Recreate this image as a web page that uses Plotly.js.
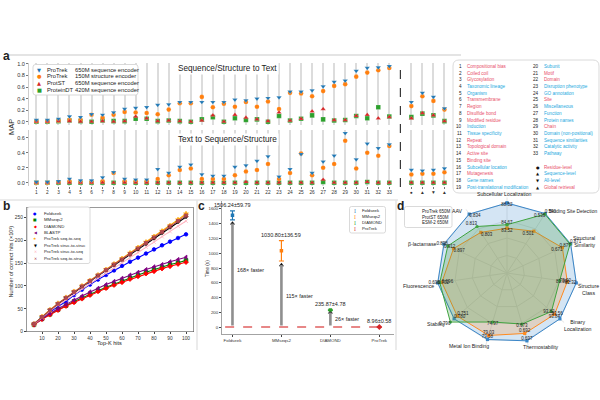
<!DOCTYPE html>
<html><head><meta charset="utf-8">
<script src="https://cdn.plot.ly/plotly-3.0.1.min.js"></script>
<style>html,body{margin:0;padding:0;background:#fff}#chart{width:600px;height:400px}</style>
</head><body><div id="chart"></div>
<script>
// ================= Panel a data =================
const aTickLabels = ['1','2','3','4','5','6','7','8','9','10','11','12','13','14','15','16','17','18','19','20','21','22','23','24','25','26','27','28','29','30','31','32','33','●','▲','▼','▲'];
const aSeriesNames = ['ProTrek','ProTrek','ProtST','ProteinDT'];
const aSeriesDesc = ['650M sequence encoder','150M structure encoder','650M sequence encoder','420M sequence encoder'];
// Sequence/Structure to Text (MAP)
const s2tProTrek650 = [0.03,0.03,0.05,0.09,0.08,0.13,0.12,0.16,0.22,0.24,0.25,0.29,0.30,0.34,0.34,0.34,0.34,0.34,0.38,0.37,0.40,0.41,0.42,0.52,0.52,0.54,0.61,0.69,0.71,0.88,0.93,0.94,0.96,0.34,0.50,0.43,0.23];
const s2tProTrek150 = [0.01,0.01,0.02,0.03,0.03,0.12,0.07,0.12,0.17,0.16,0.15,0.13,0.21,0.32,0.32,0.43,0.25,0.31,0.26,0.34,0.26,0.35,0.22,0.50,0.49,0.44,0.53,0.62,0.65,0.78,0.85,0.89,0.93,0.27,0.44,0.36,0.21];
const s2tProtST = [0.0,0.0,0.01,0.01,0.0,0.0,0.01,0.0,0.01,0.09,0.06,0.01,0.02,0.01,0.0,0.02,0.11,0.0,0.12,0.07,0.04,0.01,0.16,0.02,0.05,0.18,0.22,0.03,0.03,0.10,0.12,0.06,0.08,0.06,0.15,0.11,0.01];
const s2tProteinDT = [0.0,0.0,0.01,0.02,0.01,0.0,0.02,0.01,0.01,0.05,0.05,0.01,0.02,0.01,0.0,0.04,0.08,0.0,0.06,0.03,0.04,0.0,0.10,0.02,0.05,0.11,0.04,0.02,0.03,0.10,0.06,0.25,0.09,0.08,0.14,0.11,0.01];
// Text to Sequence/Structure (MAP)
const t2sProTrek650 = [0.01,0.01,0.02,0.05,0.03,0.03,0.07,0.14,0.05,0.04,0.04,0.18,0.13,0.21,0.24,0.11,0.09,0.09,0.21,0.23,0.29,0.35,0.08,0.18,0.38,0.13,0.28,0.36,0.66,0.31,0.52,0.46,0.51,0.17,0.16,0.17,0.19];
const t2sProTrek150 = [0.0,0.0,0.01,0.02,0.01,0.01,0.02,0.13,0.02,0.02,0.02,0.05,0.10,0.17,0.19,0.05,0.05,0.05,0.10,0.15,0.17,0.25,0.05,0.13,0.39,0.10,0.20,0.25,0.56,0.19,0.40,0.36,0.49,0.11,0.12,0.12,0.14];
const t2sProtST = [0,0,0,0,0,0,0,0,0,0,0,0,0,0,0,0,0,0,0,0.01,0,0,0,0,0,0,0.04,0,0,0,0.01,0,0,0,0,0,0];
const t2sProteinDT = [0,0,0,0,0,0,0,0,0,0,0,0,0,0,0,0,0,0,0,0,0,0,0,0,0,0,0.01,0,0,0,0.01,0,0,0,0,0,0];
// right-hand key
const aCatNames = ['Compositional bias','Coiled coil','Glycosylation','Taxonomic lineage','Organism','Transmembrane','Region','Disulfide bond','Modified residue','Induction','Tissue specificity','Repeat','Topological domain','Active site','Binding site','Subcellular location','Mutagenesis','Gene names','Post-translational modification','Subunit','Motif','Domain','Disruption phenotype','GO annotation','Site','Miscellaneous','Function','Protein names','Chain','Domain (non-positional)','Sequence similarities','Catalytic activity','Pathway'];
const aCatLevel = ['r','r','r','s','s','r','r','r','r','s','s','r','r','r','r','s','r','s','s','s','r','r','s','s','r','s','s','s','r','s','s','s','s'];
const aLevelSymbols = ['●','▲','▼','▲'];
const aLevelNames = ['Residue-level','Sequence-level','All-level','Global retrieval'];
const aLevelType = ['r','s','s','r'];

// ================= Panel b data =================
const bTopK = [5,10,15,20,25,30,35,40,45,50,55,60,65,70,75,80,85,90,95,100];
const bNames = ['Foldseek','MMseqs2','DIAMOND','BLASTP','ProTrek seq-to-seq','ProTrek struc-to-struc','ProTrek struc-to-seq','ProTrek seq-to-struc'];
const bFoldseek = [17,31,43,55,66,80,92,103,114,124,134,144,153,162,171,180,189,197,205,213];
const bMMseqs2 = [15,28,38,48,57,66,74,82,90,97,104,111,118,124,130,136,141,147,151,156];
const bDIAMOND = [15,27,37,47,56,64,72,80,88,95,102,108,115,121,127,132,138,143,148,152];
const bBLASTP = [16,29,40,50,60,69,78,87,95,103,110,117,124,130,136,142,147,153,158,163];
const bSeq2Seq = [17,33,48,62,75,88,100,112,124,136,148,160,172,184,196,208,220,232,245,258];
const bStruc2Struc = [17,32,47,60,73,86,98,110,122,133,145,157,168,180,192,204,216,228,240,251];
const bStruc2Seq = [16,31,45,58,70,82,94,106,117,128,140,151,162,173,185,196,208,219,231,242];
const bSeq2Struc = [17,32,47,61,74,87,99,111,123,135,147,158,170,182,194,206,218,230,242,254];

// ================= Panel c data =================
const cMethods = ['Foldseek','MMseqs2','DIAMOND','ProTrek'];
const cTime = [1506.24,1030.80,235.87,8.96];
const cErr = [59.79,136.59,4.78,0.58];
const cArrowTop = [1398,840,205];
const cSpeedLabelY = [780,424,112];

// ================= Panel d data =================
const dAxes = ['Subcellular Localization','Binding Site Detection','Structural<br>Similarity','Structure<br>Class','Binary<br>Localization','Thermostability','Metal Ion Binding','Stability','Fluorescence','β-lactamase','AAV'];
const dModels = ['ProTrek 650M','ProtST 650M','ESM-2 650M'];
const dProTrekR = [1.00,1.01,1.00,1.00,1.00,1.01,0.99,1.00,1.00,0.99,1.00];
const dProtSTR = [0.64,0.71,0.87,0.87,0.90,0.90,0.93,0.94,0.94,0.84,0.69];
const dESMR = [0.69,1.00,0.99,0.76,0.84,0.76,0.73,1.07,0.97,0.93,0.79];
const dProTrekVal = ['88.52','0.536','0.877','82.32','93.84','0.697','79.58','0.780','0.702','0.912','0.834'];
const dProtSTVal = ['83.52','0.501','0.671','81.09','93.82','0.692','79.03','0.751','0.696','0.897','0.803'];
const dESMVal = ['84.67','0.540','0.871','79.90','93.56','0.673','74.97','0.790','0.698','0.898','0.813'];

// ================= helpers =================
const FONT = 'Liberation Sans, Arial, sans-serif';
const W = 600, H = 400;
const X = p => p / W, Y = p => 1 - p / H;
const RED = '#e8506a', SKY = '#25a9e0';
const annotations = [];
const shapes = [];
function txt(x, y, text, size, opts) {
  annotations.push(Object.assign({xref:'paper', yref:'paper', x:X(x), y:Y(y), text:text, showarrow:false,
    font:{size:size, family:FONT, color:'#222'}, xanchor:'left', yanchor:'middle'}, opts || {}));
}
function rrect(x0, y0, x1, y1, r, lineColor, fill, layer) {
  const f = v => v.toFixed(5);
  const p = `M ${f(X(x0+r))},${f(Y(y0))} L ${f(X(x1-r))},${f(Y(y0))} Q ${f(X(x1))},${f(Y(y0))} ${f(X(x1))},${f(Y(y0+r))} ` +
            `L ${f(X(x1))},${f(Y(y1-r))} Q ${f(X(x1))},${f(Y(y1))} ${f(X(x1-r))},${f(Y(y1))} ` +
            `L ${f(X(x0+r))},${f(Y(y1))} Q ${f(X(x0))},${f(Y(y1))} ${f(X(x0))},${f(Y(y1-r))} ` +
            `L ${f(X(x0))},${f(Y(y0+r))} Q ${f(X(x0))},${f(Y(y0))} ${f(X(x0+r))},${f(Y(y0))} Z`;
  shapes.push({type:'path', xref:'paper', yref:'paper', path:p, line:{color:lineColor, width:0.8}, fillcolor:fill, layer:layer||'above'});
}
function pline(x0, y0, x1, y1, color, width, dash) {
  shapes.push({type:'line', xref:'paper', yref:'paper', x0:X(x0), y0:Y(y0), x1:X(x1), y1:Y(y1), line:{color:color, width:width, dash:dash||'solid'}, layer:'below'});
}

const traces = [];
// ================= Panel a traces =================
const aPos = aTickLabels.map((_, i) => i < 33 ? i + 1 : i + 2);
const aStyles = [
  {color:'#1f77b4', symbol:'triangle-down'},
  {color:'#ff7f0e', symbol:'circle'},
  {color:'#d62728', symbol:'triangle-up'},
  {color:'#2ca02c', symbol:'square'}
];
const aTop = [s2tProTrek650, s2tProTrek150, s2tProtST, s2tProteinDT];
const aBot = [t2sProTrek650, t2sProTrek150, t2sProtST, t2sProteinDT];
[3, 1, 2, 0].forEach(k => {
  traces.push({type:'scatter', mode:'markers', x:aPos, y:aTop[k], xaxis:'x', yaxis:'y', showlegend:false, hoverinfo:'skip',
    marker:{color:aStyles[k].color, symbol:aStyles[k].symbol, size:4.6, line:{width:0.3, color:'rgba(255,255,255,0.6)'}}});
  traces.push({type:'scatter', mode:'markers', x:aPos, y:aBot[k], xaxis:'x2', yaxis:'y2', showlegend:false, hoverinfo:'skip',
    marker:{color:aStyles[k].color, symbol:aStyles[k].symbol, size:4.6, line:{width:0.3, color:'rgba(255,255,255,0.6)'}}});
});

// ================= Panel b traces =================
const bSeries = [bFoldseek, bMMseqs2, bDIAMOND, bBLASTP, bSeq2Seq, bStruc2Struc, bStruc2Seq, bSeq2Struc];
const bColors = ['#0000ff','#008000','#ff0000','#800080','#ffa500','#000000','#ffb6c1','#b0474f'];
const bSymbols = ['circle','square','diamond','triangle-left','star','triangle-down','x-thin-open','x'];
bSeries.forEach((s, k) => {
  traces.push({type:'scatter', mode:'lines+markers', x:bTopK, y:s, xaxis:'x3', yaxis:'y3', showlegend:false, hoverinfo:'skip',
    line:{color:bColors[k], width:1.1},
    marker:{color:bColors[k], symbol:bSymbols[k], size:3.6, line:{color:bColors[k], width:0.8}}});
});

// ================= Panel c traces =================
const cColors = ['#1f77b4','#ff7f0e','#2ca02c','#d62728'];
const cIdx = cMethods.map((_, i) => i);
cArrowTop.forEach((t, i) => {
  annotations.push({xref:'x4', yref:'y4', axref:'x4', ayref:'y4', x:i, y:t, ax:i, ay:cTime[3], text:'', showarrow:true,
    arrowhead:0, arrowwidth:2.6, arrowcolor:'#8f8f8f', standoff:0, startstandoff:0});
  annotations.push({xref:'x4', yref:'y4', x:i + 0.06, y:cSpeedLabelY[i], text:Math.round(cTime[i] / cTime[3]) + '× faster',
    showarrow:false, xanchor:'left', yanchor:'middle', font:{size:5.4, family:FONT, color:'#222'}});
});
traces.push({type:'scatter', mode:'markers', x:cIdx.slice(0, 3), y:cArrowTop, xaxis:'x4', yaxis:'y4', showlegend:false, hoverinfo:'skip',
  marker:{symbol:'triangle-up', color:'#111', size:4.5}});
cMethods.forEach((m, i) => {
  traces.push({type:'scatter', mode:'markers', x:[i], y:[cTime[i]], xaxis:'x4', yaxis:'y4', showlegend:false, hoverinfo:'skip',
    error_y:{type:'data', array:[cErr[i]], color:cColors[i], thickness:1.2, width:2.5},
    marker:{symbol:i === 3 ? 'diamond' : 'square', color:cColors[i], size:i === 3 ? 4.5 : 3.5}});
  annotations.push({xref:'x4', yref:'y4', x:i, y:cTime[i] + cErr[i], text:cTime[i].toFixed(2) + '±' + cErr[i].toFixed(2),
    showarrow:false, xanchor:'center', yanchor:'bottom', yshift:1, font:{size:5.5, family:FONT, color:'#222'}});
});
shapes.push({type:'line', xref:'x4', yref:'y4', x0:-0.15, x1:3, y0:cTime[3], y1:cTime[3], line:{color:'#e06060', width:1.3, dash:'dash'}, layer:'below'});

// ================= Panel d traces =================
const dClose = a => a.concat([a[0]]);
const dR = [dProTrekR, dProtSTR, dESMR];
const dVal = [dProTrekVal, dProtSTVal, dESMVal];
const dLine = ['#3a86c8','#ff8a1f','#3fa33f'];
const dFill = ['rgba(100,160,215,0.28)','rgba(255,140,30,0.22)','rgba(70,160,70,0.26)'];
const dSym = ['square','square','circle'];
dR.forEach((r, k) => {
  traces.push({type:'scatterpolar', r:dClose(r), theta:dClose(dAxes), mode:'lines+markers', fill:'toself', fillcolor:dFill[k],
    line:{color:dLine[k], width:1}, marker:{color:dLine[k], size:3.2, symbol:dSym[k]}, showlegend:false, hoverinfo:'skip', subplot:'polar'});
});
function inwardPos(i, outward) {
  const th = i * 2 * Math.PI / dAxes.length;
  let dx = -Math.sin(th), dy = -Math.cos(th);
  if (outward) { dx = -dx; dy = -dy; }
  const v = dy > 0.38 ? 'top' : (dy < -0.38 ? 'bottom' : 'middle');
  const h = dx > 0.38 ? 'right' : (dx < -0.38 ? 'left' : 'center');
  return v + ' ' + h;
}
dVal.forEach((vals, k) => {
  traces.push({type:'scatterpolar', r:dR[k], theta:dAxes, mode:'text', text:vals, subplot:'polar',
    textposition:vals.map((_, i) => inwardPos(i, k === 2)), textfont:{size:4.5, family:FONT, color:'#222'}, showlegend:false, hoverinfo:'skip'});
});
const dLabelPlace = [[504,199,'center','bottom','center'],[599,211,'right','middle','left'],[598,241,'right','middle','right'],
  [588,289.5,'center','middle','center'],[578,325,'center','middle','center'],[541,347,'center','middle','center'],
  [469,346,'center','middle','center'],[448,324,'right','middle','right'],[436,286,'right','middle','right'],
  [438,244,'right','middle','right'],[465,211,'right','middle','right']];
dAxes.forEach((name, i) => {
  const p = dLabelPlace[i];
  txt(p[0], p[1], name, i === 1 ? 4.9 : 5.2, {xanchor:p[2], yanchor:p[3], align:p[4]});
});

// ================= annotations / decorations =================
txt(1, 56, '<b>a</b>', 12);
txt(1, 206, '<b>b</b>', 12);
txt(196, 206, '<b>c</b>', 12);
txt(395, 206, '<b>d</b>', 12);
pline(8, 55, 461, 55, '#e4e4e4', 2);
pline(0, 200, 398, 200, '#e4e4e4', 1.5);
pline(197, 200, 197, 350, '#e4e4e4', 1.5);
pline(396, 200, 396, 350, '#e4e4e4', 1.5);
shapes.push({type:'line', xref:'x', yref:'paper', x0:34, x1:34, y0:Y(187), y1:Y(62), line:{color:'#111', width:1, dash:'dash'}});
txt(11, 127, 'MAP', 7.5, {textangle:-90, xanchor:'center'});
txt(227.5, 68.5, 'Sequence/Structure to Text', 8.2, {xanchor:'center', bgcolor:'#ffffff', borderpad:1});
txt(227.5, 139.5, 'Text to Sequence/Structure', 8.2, {xanchor:'center', bgcolor:'#ffffff', borderpad:1});
rrect(33, 64.5, 138, 95, 2.5, '#cfcfcf', '#ffffff');
const aLegSym = ['▼','●','▲','■'];
aSeriesNames.forEach((n, k) => {
  const y = 69.7 + k * 6.6;
  txt(39.5, y, aLegSym[k], 5.2, {xanchor:'center', font:{size:5.2, family:'DejaVu Sans', color:aStyles[k].color}});
  txt(44.5, y, n, 5.8);
  txt(73, y, aSeriesDesc[k], 5.8);
});
rrect(453, 60, 599, 193, 6, '#d0d0d0', '#ffffff');
aCatNames.forEach((n, i) => {
  const col = i < 19 ? 0 : 1;
  const row = col === 0 ? i : i - 19;
  const y = 66.3 + row * 6.72;
  const nx = col === 0 ? 463.5 : 540.8;
  txt(nx, y, String(i + 1), 4.6, {xanchor:'right'});
  txt(nx + 1.3, y, n, 4.6, {font:{size:4.6, family:FONT, color:aCatLevel[i] === 'r' ? RED : SKY}});
});
aLevelNames.forEach((n, j) => {
  const y = 66.3 + (15 + j) * 6.72;
  txt(538, y, aLevelSymbols[j], 4, {xanchor:'center', font:{size:4, family:'DejaVu Sans', color:'#111'}});
  txt(542.1, y, n, 4.6, {font:{size:4.6, family:FONT, color:aLevelType[j] === 'r' ? RED : SKY}});
});
rrect(27.5, 207, 90, 263.5, 2, '#d0d0d0', '#ffffff');
const bLegSym = ['●','■','◆','◀','★','▼','✕','✕'];
bNames.forEach((n, k) => {
  const y = 213.3 + k * 6.4;
  pline(30.5, y, 40, y, bColors[k], 1);
  txt(35.2, y, bLegSym[k], 3.8, {xanchor:'center', font:{size:3.8, family:'DejaVu Sans', color:bColors[k]}});
  txt(42, y, n, 4.3);
});
txt(110, 343, 'Top-K hits', 5.6, {xanchor:'center'});
txt(10.5, 262, 'Number of correct hits (×10³)', 5.6, {textangle:-90, xanchor:'center'});
rrect(349.5, 206.5, 385.5, 233, 2, '#d0d0d0', '#ffffff');
cMethods.forEach((m, k) => {
  const y = 210.8 + k * 6;
  txt(355, y, 'Ⅰ', 5, {xanchor:'center', font:{size:5, family:'DejaVu Serif', color:cColors[k]}});
  txt(359.5, y, m, 4.2);
});
txt(207, 268, 'Time (s)', 4.6, {textangle:-90, xanchor:'center'});
rrect(404.5, 206.5, 452, 227.5, 2, '#d0d0d0', '#ffffff');
dModels.forEach((m, k) => {
  const y = 211.5 + k * 5.7;
  pline(407.5, y, 418, y, dLine[k], 1.1);
  txt(420, y, m, 4.5);
});

const tickFont = s => ({size:s, family:FONT, color:'#333'});
const layout = {
  width:W, height:H, margin:{l:0, r:0, t:0, b:0}, paper_bgcolor:'#ffffff', plot_bgcolor:'rgba(0,0,0,0)',
  showlegend:false, font:{family:FONT, color:'#222'},
  xaxis:{domain:[0.0478, 0.7527], range:[0.3, 38.65], anchor:'y', tickvals:aPos, showticklabels:false, ticks:'',
    showgrid:true, gridcolor:'#dcdcdc', gridwidth:2, zeroline:false, showline:false},
  yaxis:{domain:[0.6885, 0.843], range:[-0.05, 1.02], anchor:'x', tickvals:[0, 0.2, 0.4, 0.6, 0.8, 1.0], tickformat:'.1f',
    tickfont:tickFont(5.6), ticks:'outside', ticklen:2, tickcolor:'#777', showline:true, linecolor:'#aaa', linewidth:0.6,
    showgrid:false, zeroline:false},
  xaxis2:{domain:[0.0478, 0.7527], range:[0.3, 38.65], anchor:'y2', tickvals:aPos, ticktext:aTickLabels, tickfont:tickFont(4.8),
    ticks:'outside', ticklen:2, tickcolor:'#777', showgrid:true, gridcolor:'#dcdcdc', gridwidth:2, zeroline:false, showline:false},
  yaxis2:{domain:[0.5358, 0.6745], range:[-0.04, 0.7], anchor:'x2', tickvals:[0, 0.2, 0.4, 0.6], tickformat:'.1f',
    tickfont:tickFont(5.6), ticks:'outside', ticklen:2, tickcolor:'#777', showline:true, linecolor:'#aaa', linewidth:0.6,
    showgrid:false, zeroline:false},
  xaxis3:{domain:[0.044, 0.3227], range:[0.25, 104.75], anchor:'y3', tickvals:[0,10,20,30,40,50,60,70,80,90,100],
    tickfont:tickFont(4.8), ticks:'outside', ticklen:2, showline:true, mirror:true, linecolor:'#555', linewidth:0.6,
    showgrid:false, zeroline:false},
  yaxis3:{domain:[0.1708, 0.4793], range:[0, 270], anchor:'x3', tickvals:[0,50,100,150,200,250],
    tickfont:tickFont(4.8), ticks:'outside', ticklen:2, showline:true, mirror:true, linecolor:'#555', linewidth:0.6,
    showgrid:false, zeroline:false},
  xaxis4:{domain:[0.3695, 0.6567], range:[-0.22, 3.3], anchor:'y4', tickvals:cIdx, ticktext:cMethods,
    tickfont:tickFont(4.4), ticks:'outside', ticklen:2, showline:true, linecolor:'#666', linewidth:0.6,
    showgrid:false, zeroline:false},
  yaxis4:{domain:[0.164, 0.4977], range:[-90, 1700], anchor:'x4', tickvals:[0,200,400,600,800,1000,1200,1400,1600],
    tickfont:tickFont(4.4), ticks:'outside', ticklen:2, showline:true, linecolor:'#666', linewidth:0.6,
    showgrid:false, zeroline:false},
  polar:{domain:{x:[0.719, 0.971], y:[0.1285, 0.5065]}, gridshape:'linear', bgcolor:'rgba(0,0,0,0)',
    radialaxis:{range:[0, 1.08], showticklabels:false, ticks:'', showline:false, gridcolor:'#e4e4e4', tickvals:[0.25, 0.5, 0.75, 1.0]},
    angularaxis:{direction:'clockwise', rotation:90, showticklabels:false, gridcolor:'#e4e4e4', showline:false, ticks:''}},
  annotations:annotations,
  shapes:shapes
};
Plotly.newPlot('chart', traces, layout, {staticPlot:true, displayModeBar:false});
</script>
</body></html>
